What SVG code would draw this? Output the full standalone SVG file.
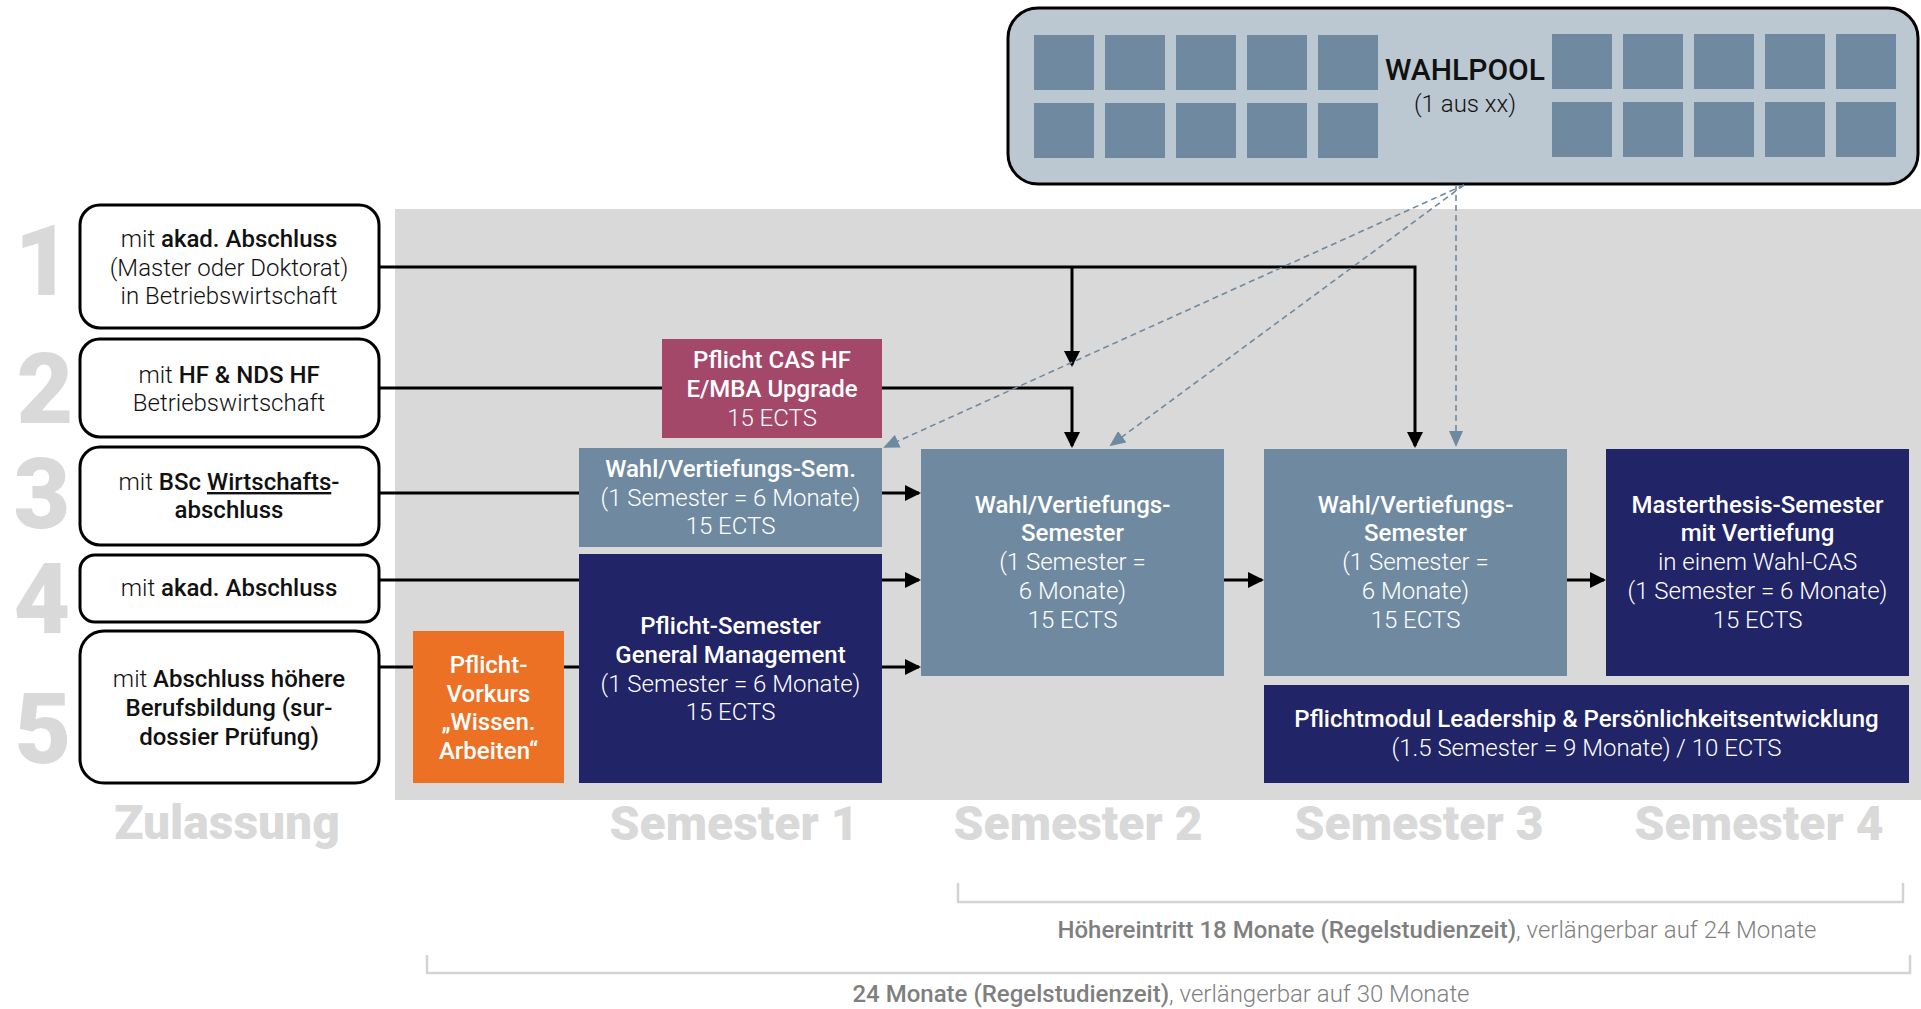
<svg xmlns="http://www.w3.org/2000/svg" width="1921" height="1009" viewBox="0 0 1921 1009">
<style>
  text { font-family: Roboto, "Liberation Sans", sans-serif; }
  .b { font-weight: 500; }
  .l { font-weight: 300; }
  .lt { font-size: 24px; fill: #111; text-anchor: middle; }
  .wt { font-size: 24px; fill: #fff; text-anchor: middle; }
  .num { font-size: 98px; font-weight: 900; fill: #d9d9d9; text-anchor: middle; }
  .sem { font-size: 48px; font-weight: 900; fill: #d9d9d9; text-anchor: middle; }
  .adm { fill: #fff; stroke: #000; stroke-width: 3; }
  .conn { fill: none; stroke: #000; stroke-width: 3; }
  .dash { fill: none; stroke: #6f8aa0; stroke-width: 1.6; stroke-dasharray: 6 4; }
  .sq { fill: #6f8aa0; }
  .brk { fill: none; stroke: #d3d3d3; stroke-width: 2.5; }
  .gt { font-size: 24px; fill: #7f7f7f; text-anchor: middle; }
</style>
<defs>
  <marker id="ah" markerUnits="userSpaceOnUse" markerWidth="16" markerHeight="16" refX="14" refY="8" orient="auto">
    <path d="M0,0 L16,8 L0,16 z" fill="#000"/>
  </marker>
  <marker id="ahd" markerUnits="userSpaceOnUse" markerWidth="16" markerHeight="14" refX="14" refY="7" orient="auto">
    <path d="M0,0 L16,7 L0,14 z" fill="#6f8aa0"/>
  </marker>
</defs>

<rect id="panel" x="395" y="209" width="1526" height="591" fill="#d9d9d9"/>

<g id="wahlpool">
  <rect x="1008" y="8" width="910" height="176" rx="30" ry="30" fill="#bcc8d1" stroke="#000" stroke-width="3"/>
  <rect class="sq" x="1034" y="35" width="60" height="55"/>
  <rect class="sq" x="1105" y="35" width="60" height="55"/>
  <rect class="sq" x="1176" y="35" width="60" height="55"/>
  <rect class="sq" x="1247" y="35" width="60" height="55"/>
  <rect class="sq" x="1318" y="35" width="60" height="55"/>
  <rect class="sq" x="1034" y="103" width="60" height="55"/>
  <rect class="sq" x="1105" y="103" width="60" height="55"/>
  <rect class="sq" x="1176" y="103" width="60" height="55"/>
  <rect class="sq" x="1247" y="103" width="60" height="55"/>
  <rect class="sq" x="1318" y="103" width="60" height="55"/>
  <rect class="sq" x="1552" y="34" width="60" height="55"/>
  <rect class="sq" x="1623" y="34" width="60" height="55"/>
  <rect class="sq" x="1694" y="34" width="60" height="55"/>
  <rect class="sq" x="1765" y="34" width="60" height="55"/>
  <rect class="sq" x="1836" y="34" width="60" height="55"/>
  <rect class="sq" x="1552" y="102" width="60" height="55"/>
  <rect class="sq" x="1623" y="102" width="60" height="55"/>
  <rect class="sq" x="1694" y="102" width="60" height="55"/>
  <rect class="sq" x="1765" y="102" width="60" height="55"/>
  <rect class="sq" x="1836" y="102" width="60" height="55"/>
  <text x="1465" y="80" font-size="30" font-weight="500" fill="#111" text-anchor="middle">WAHLPOOL</text>
  <text x="1465" y="112" font-size="24" font-weight="300" fill="#111" text-anchor="middle">(1 aus xx)</text>
</g>

<g id="numbers">
  <text class="num" x="43" y="295">1</text>
  <text class="num" x="45" y="423">2</text>
  <text class="num" x="42" y="528">3</text>
  <text class="num" x="42" y="633">4</text>
  <text class="num" x="43" y="763">5</text>
</g>

<g id="adm1">
  <rect class="adm" x="80" y="205" width="299" height="123" rx="20"/>
  <text class="lt" x="229" y="247"><tspan class="l">mit </tspan><tspan class="b">akad. Abschluss</tspan></text>
  <text class="lt l" x="229" y="276">(Master oder Doktorat)</text>
  <text class="lt l" x="229" y="304">in Betriebswirtschaft</text>
</g>
<g id="adm2">
  <rect class="adm" x="80" y="339" width="299" height="98" rx="20"/>
  <text class="lt" x="229" y="383"><tspan class="l">mit </tspan><tspan class="b">HF &amp; NDS HF</tspan></text>
  <text class="lt l" x="229" y="411">Betriebswirtschaft</text>
</g>
<g id="adm3">
  <rect class="adm" x="80" y="447" width="299" height="98" rx="20"/>
  <text class="lt" x="229" y="490"><tspan class="l">mit </tspan><tspan class="b">BSc </tspan><tspan class="b" text-decoration="underline">Wirtschafts</tspan><tspan class="b">-</tspan></text>
  <text class="lt b" x="229" y="518">abschluss</text>
</g>
<g id="adm4">
  <rect class="adm" x="80" y="555" width="299" height="67" rx="15"/>
  <text class="lt" x="229" y="596"><tspan class="l">mit </tspan><tspan class="b">akad. Abschluss</tspan></text>
</g>
<g id="adm5">
  <rect class="adm" x="80" y="631" width="299" height="152" rx="24"/>
  <text class="lt" x="229" y="687"><tspan class="l">mit </tspan><tspan class="b">Abschluss höhere</tspan></text>
  <text class="lt b" x="229" y="716">Berufsbildung (sur-</text>
  <text class="lt b" x="229" y="745">dossier Prüfung)</text>
</g>

<g id="connectors">
  <path class="conn" d="M379,267 H1415 V446" marker-end="url(#ah)"/>
  <path class="conn" d="M1072,267 V365" marker-end="url(#ah)"/>
  <path class="conn" d="M379,388 H662"/>
  <path class="conn" d="M882,388 H1072 V446" marker-end="url(#ah)"/>
  <path class="conn" d="M379,493 H579"/>
  <path class="conn" d="M882,493 H919" marker-end="url(#ah)"/>
  <path class="conn" d="M379,580 H579"/>
  <path class="conn" d="M882,580 H919" marker-end="url(#ah)"/>
  <path class="conn" d="M379,667 H413"/>
  <path class="conn" d="M564,667 H579"/>
  <path class="conn" d="M882,667 H919" marker-end="url(#ah)"/>
  <path class="conn" d="M1224,580 H1262" marker-end="url(#ah)"/>
  <path class="conn" d="M1567,580 H1604" marker-end="url(#ah)"/>
  <path class="dash" d="M1464,185 L885,447" marker-end="url(#ahd)"/>
  <path class="dash" d="M1464,185 L1111,445" marker-end="url(#ahd)"/>
  <path class="dash" d="M1456,185 V445" marker-end="url(#ahd)"/>
</g>

<g id="cas">
  <rect x="662" y="339" width="220" height="99" fill="#a4486a"/>
  <text class="wt b" x="772" y="368">Pflicht CAS HF</text>
  <text class="wt b" x="772" y="397">E/MBA Upgrade</text>
  <text class="wt l" x="772" y="426">15 ECTS</text>
</g>
<g id="wahlsem1">
  <rect x="579" y="448" width="303" height="99" fill="#6f8aa0"/>
  <text class="wt b" x="730.5" y="477">Wahl/Vertiefungs-Sem.</text>
  <text class="wt l" x="730.5" y="506">(1 Semester = 6 Monate)</text>
  <text class="wt l" x="730.5" y="534">15 ECTS</text>
</g>
<g id="vorkurs">
  <rect x="413" y="631" width="151" height="152" fill="#ec7125"/>
  <text class="wt b" x="488.5" y="673">Pflicht-</text>
  <text class="wt b" x="488.5" y="702">Vorkurs</text>
  <text class="wt b" x="488.5" y="730">„Wissen.</text>
  <text class="wt b" x="488.5" y="759">Arbeiten“</text>
</g>
<g id="gm">
  <rect x="579" y="554" width="303" height="229" fill="#212467"/>
  <text class="wt b" x="730.5" y="634">Pflicht-Semester</text>
  <text class="wt b" x="730.5" y="663">General Management</text>
  <text class="wt l" x="730.5" y="692">(1 Semester = 6 Monate)</text>
  <text class="wt l" x="730.5" y="720">15 ECTS</text>
</g>
<g id="sem2">
  <rect x="921" y="449" width="303" height="227" fill="#6f8aa0"/>
  <text class="wt b" x="1072.5" y="513">Wahl/Vertiefungs-</text>
  <text class="wt b" x="1072.5" y="541">Semester</text>
  <text class="wt l" x="1072.5" y="570">(1 Semester =</text>
  <text class="wt l" x="1072.5" y="599">6 Monate)</text>
  <text class="wt l" x="1072.5" y="628">15 ECTS</text>
</g>
<g id="sem3">
  <rect x="1264" y="449" width="303" height="227" fill="#6f8aa0"/>
  <text class="wt b" x="1415.5" y="513">Wahl/Vertiefungs-</text>
  <text class="wt b" x="1415.5" y="541">Semester</text>
  <text class="wt l" x="1415.5" y="570">(1 Semester =</text>
  <text class="wt l" x="1415.5" y="599">6 Monate)</text>
  <text class="wt l" x="1415.5" y="628">15 ECTS</text>
</g>
<g id="sem4">
  <rect x="1606" y="449" width="303" height="227" fill="#212467"/>
  <text class="wt b" x="1757.5" y="513">Masterthesis-Semester</text>
  <text class="wt b" x="1757.5" y="541">mit Vertiefung</text>
  <text class="wt l" x="1757.5" y="570">in einem Wahl-CAS</text>
  <text class="wt l" x="1757.5" y="599">(1 Semester = 6 Monate)</text>
  <text class="wt l" x="1757.5" y="628">15 ECTS</text>
</g>
<g id="leadership">
  <rect x="1264" y="685" width="645" height="98" fill="#212467"/>
  <text class="wt b" x="1586.5" y="727">Pflichtmodul Leadership &amp; Persönlichkeitsentwicklung</text>
  <text class="wt l" x="1586.5" y="756">(1.5 Semester = 9 Monate) / 10 ECTS</text>
</g>

<g id="labels">
  <text class="sem" x="227" y="839">Zulassung</text>
  <text class="sem" x="734" y="840">Semester 1</text>
  <text class="sem" x="1078" y="840">Semester 2</text>
  <text class="sem" x="1419" y="840">Semester 3</text>
  <text class="sem" x="1759" y="840">Semester 4</text>
</g>

<g id="durations">
  <path class="brk" d="M958,883 V902 H1903 V883"/>
  <text class="gt" x="1437" y="938"><tspan class="b">Höhereintritt 18 Monate (Regelstudienzeit)</tspan><tspan class="l">, verlängerbar auf 24 Monate</tspan></text>
  <path class="brk" d="M427,955 V973 H1910 V955"/>
  <text class="gt" x="1161" y="1002"><tspan class="b">24 Monate (Regelstudienzeit)</tspan><tspan class="l">, verlängerbar auf 30 Monate</tspan></text>
</g>
</svg>
